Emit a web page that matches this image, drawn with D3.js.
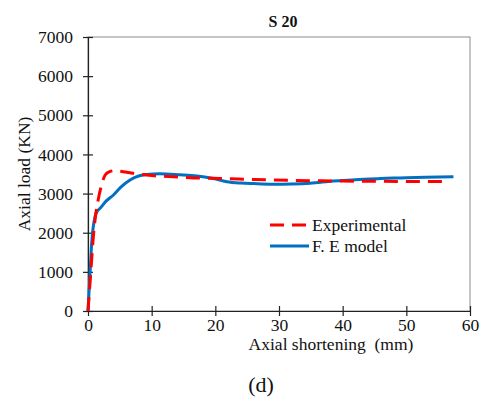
<!DOCTYPE html>
<html>
<head>
<meta charset="utf-8">
<script src="https://cdn.jsdelivr.net/npm/d3@7"></script>
<style>
  html, body { margin: 0; padding: 0; background: #fff; }
  svg, svg text { font-family: "Liberation Serif", "Times New Roman", "DejaVu Serif", serif; }
  svg { display: block; }
</style>
</head>
<body>
<svg id="chart" width="483" height="403"></svg>
<script>
// Load–shortening curves for specimen S 20
const expShortening = [0, 0.4, 0.84, 1.2, 1.6, 2.1, 2.7, 3.4, 4.2, 5.5, 7.1, 9, 10.8, 13.4, 17.6, 20.7, 25, 29.1, 34.9, 40, 45, 50, 56.5];
const expLoad       = [0, 900, 1900, 2450, 2840, 3200, 3475, 3560, 3585, 3560, 3518, 3480, 3450, 3431, 3395, 3385, 3365, 3347, 3330, 3320, 3315, 3310, 3310];

const feShortening = [0, 0.3, 0.58, 1.1, 1.5, 1.9, 2.8, 4.0, 5.2, 6.6, 8.2, 9.2, 11.3, 14.4, 17.1, 19.5, 21.8, 24, 26, 29, 32, 34.9, 38.5, 42, 46, 49, 53, 57.4];
const feLoad       = [0, 900, 1737, 2410, 2560, 2624, 2800, 2964, 3170, 3347, 3460, 3490, 3505, 3480, 3449, 3390, 3304, 3270, 3255, 3240, 3245, 3263, 3320, 3350, 3385, 3400, 3420, 3431];

const xTicks = [0, 10, 20, 30, 40, 50, 60];
const yTicks = [0, 1000, 2000, 3000, 4000, 5000, 6000, 7000];

const seriesNames = ["Experimental", "F. E model"];
const seriesColors = ["#FF0000", "#0070C0"];

const svg = d3.select("#chart");
const plot = { left: 88, right: 470, top: 37, bottom: 311 };

const x = d3.scaleLinear().domain([0, 60]).range([plot.left, plot.right]);
const y = d3.scaleLinear().domain([0, 7000]).range([plot.bottom, plot.top]);

// plot area frame
svg.append("rect")
  .attr("x", plot.left).attr("y", plot.top)
  .attr("width", plot.right - plot.left).attr("height", plot.bottom - plot.top)
  .attr("fill", "none").attr("stroke", "#8c8c8c").attr("stroke-width", 1);

// axes with ticks crossing the axis line
const fontSize = 17.5;
const fmt = d3.format("d");
const xAxis = svg.append("g").attr("transform", `translate(0,${plot.bottom})`)
  .call(d3.axisBottom(x).tickValues(xTicks).tickFormat(fmt).tickSizeInner(5).tickSizeOuter(0).tickPadding(3));
xAxis.selectAll(".tick line").attr("y1", -5).attr("y2", 5);
const yAxis = svg.append("g").attr("transform", `translate(${plot.left},0)`)
  .call(d3.axisLeft(y).tickValues(yTicks).tickFormat(fmt).tickSizeInner(5).tickSizeOuter(0).tickPadding(10));
yAxis.selectAll(".tick line").attr("x1", -5).attr("x2", 5);

[xAxis, yAxis].forEach(g => {
  g.attr("font-family", null).attr("font-size", null);
  g.select(".domain").attr("stroke", "#222").attr("stroke-width", 1.2);
  g.selectAll(".tick line").attr("stroke", "#222").attr("stroke-width", 1.2);
  g.selectAll(".tick text").attr("font-size", fontSize).attr("fill", "#111");
});

// curves
const line = d3.line().curve(d3.curveMonotoneX).x(d => x(d[0])).y(d => y(d[1]));
const expData = d3.zip(expShortening, expLoad);
const feData = d3.zip(feShortening, feLoad);
const dash = "14,8";

svg.append("path").datum(feData)
  .attr("d", line).attr("fill", "none")
  .attr("stroke", seriesColors[1]).attr("stroke-width", 3)
  .attr("stroke-linejoin", "round");

svg.append("path").datum(expData)
  .attr("d", line).attr("fill", "none")
  .attr("stroke", seriesColors[0]).attr("stroke-width", 3)
  .attr("stroke-dasharray", dash);

// legend
const legend = svg.append("g");
const legY = [225, 246];
seriesNames.forEach((name, i) => {
  legend.append("line")
    .attr("x1", 270).attr("x2", 309).attr("y1", legY[i]).attr("y2", legY[i])
    .attr("stroke", seriesColors[i]).attr("stroke-width", 3)
    .attr("stroke-dasharray", i === 0 ? dash : null);
  legend.append("text")
    .attr("x", 312).attr("y", legY[i] + 6)
    .attr("font-size", fontSize).attr("fill", "#111")
    .text(name);
});

// titles
svg.append("text")
  .attr("x", 283).attr("y", 27).attr("text-anchor", "middle")
  .attr("font-size", 16).attr("font-weight", "bold").attr("fill", "#111")
  .text("S 20");

svg.append("text")
  .attr("x", 331).attr("y", 350).attr("text-anchor", "middle")
  .attr("font-size", fontSize).attr("fill", "#111")
  .style("white-space", "pre")
  .text("Axial shortening  (mm)");

svg.append("text")
  .attr("transform", `translate(30,174) rotate(-90)`)
  .attr("text-anchor", "middle")
  .attr("font-size", fontSize).attr("fill", "#111")
  .text("Axial load (KN)");

svg.append("text")
  .attr("x", 261).attr("y", 392).attr("text-anchor", "middle")
  .attr("font-size", 22).attr("fill", "#111")
  .text("(d)");
</script>
</body>
</html>
